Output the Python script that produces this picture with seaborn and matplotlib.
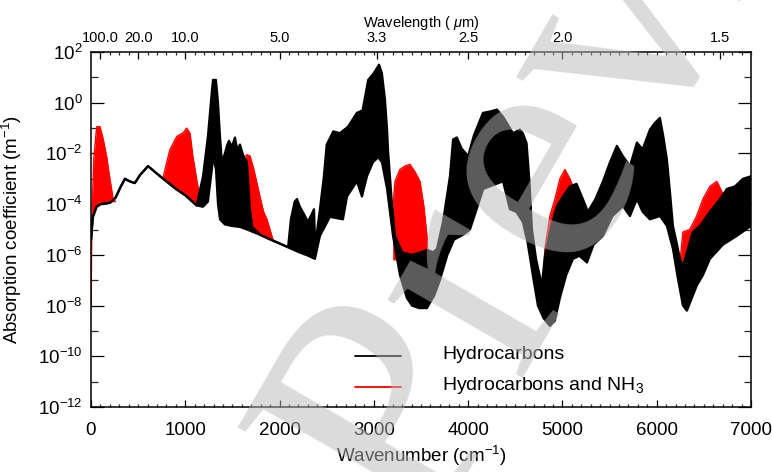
import numpy as np
import matplotlib
matplotlib.use("Agg")
import matplotlib.pyplot as plt
import seaborn as sns
from matplotlib.ticker import FixedLocator, FixedFormatter, NullFormatter

# ---------------- data (log10 of absorption coefficient, m^-1) ----------------
# Hydrocarbons: upper envelope of the dense line spectrum
hc_top_wn = [0, 20, 60, 100, 200, 260, 310, 360, 410, 465, 520, 605, 700, 800, 900, 1000, 1120,
             1188, 1240, 1283, 1294, 1325, 1347, 1368, 1389, 1420, 1442, 1463, 1495, 1527, 1550,
             1580, 1612, 1654, 1686, 1710, 1800, 1900, 2000, 2090, 2120, 2160, 2185, 2215, 2260,
             2300, 2340, 2365, 2380, 2400, 2428, 2470, 2500, 2570, 2640, 2725, 2820, 2880, 2940,
             3000, 3055, 3085, 3118, 3140, 3150, 3190, 3224, 3300, 3400, 3500, 3563, 3630, 3670,
             3733, 3807, 3840, 3880, 3930, 4000, 4060, 4157, 4230, 4305, 4370, 4475, 4549, 4580,
             4620, 4650, 4677, 4720, 4782, 4814, 4867, 4940, 5005, 5080, 5150, 5217, 5270, 5350,
             5430, 5504, 5578, 5640, 5716, 5790, 5850, 5928, 5980, 6034, 6070, 6108, 6140, 6172,
             6210, 6246, 6278, 6320, 6383, 6458, 6564, 6670, 6744, 6830, 6914, 7000]
hc_top_log = [-5.4, -4.5, -4.1, -4.0, -3.95, -3.75, -3.35, -3.0, -3.1, -3.17, -2.85, -2.5, -2.8,
              -3.1, -3.4, -3.65, -4.05,
              -2.9, -1.33, 0.5, 0.9, 0.9, 0.0, -1.33, -2.35, -2.0, -1.7, -1.5, -1.73, -1.37, -1.84,
              -1.65, -2.05, -2.35, -4.2, -4.9, -5.22, -5.39, -5.55, -5.7, -4.6, -3.9, -3.8, -4.1, -4.4,
              -4.7, -4.4, -4.2, -5.8, -5.0, -4.2, -2.9, -1.65, -1.13, -1.2, -0.95, -0.4, -0.3, 0.9,
              1.17, 1.5, 1.17, 0.12, -1.05, -1.85, -3.9, -5.25, -5.9, -6.0, -5.9, -5.8, -5.9, -5.76,
              -4.7, -2.9, -1.45, -1.37, -1.8, -2.1, -1.3, -0.4, -0.35, -0.27, -0.55, -1.2, -1.06, -1.2,
              -1.6, -3.1, -5.0, -6.16, -7.2, -6.04, -5.1, -4.1, -3.7, -3.3, -3.2, -3.8, -4.3, -3.8,
              -3.1, -2.35, -1.7, -2.1, -2.5, -1.57, -1.84, -1.06, -0.8, -0.6, -1.33, -2.24, -3.5, -4.86,
              -5.5, -6.16, -6.43, -5.9, -5.1, -4.86, -4.3, -3.8, -3.4, -3.3, -3.0, -2.9]

# Hydrocarbons: lower envelope
hc_bot_wn = [0, 20, 60, 100, 200, 260, 310, 360, 410, 465, 520, 605, 700, 800, 900, 1000, 1120,
             1188, 1240, 1283, 1294, 1325, 1347, 1368, 1420, 1495, 1580, 1654, 1800, 1900, 2000,
             2090, 2195, 2300, 2375, 2428, 2534, 2672, 2715, 2820, 2874, 2927, 2990, 3045, 3086,
             3140, 3203, 3277, 3350, 3404, 3480, 3563, 3640, 3700, 3780, 3850, 3950, 4019, 4090,
             4160, 4231, 4300, 4370, 4443, 4510, 4580, 4630, 4690, 4740, 4800, 4867, 4920, 4973,
             5040, 5111, 5180, 5260, 5330, 5430, 5530, 5642, 5716, 5790, 5850, 5928, 6034, 6108,
             6172, 6225, 6278, 6320, 6426, 6490, 6564, 6702, 6850, 7000]
hc_bot_log = [-5.4, -4.5, -4.1, -4.0, -3.95, -3.75, -3.35, -3.0, -3.1, -3.17, -2.85, -2.5, -2.8,
              -3.1, -3.4, -3.65, -4.05,
              -4.1, -3.9, -2.6, -2.15, -2.6, -4.0, -4.6, -4.8, -4.86, -4.9, -5.0, -5.22, -5.39, -5.55,
              -5.7, -5.88, -6.03, -6.16, -5.25, -4.5, -4.6, -3.7, -3.1, -3.7, -2.9, -2.35, -2.15, -2.35,
              -3.4, -5.25, -6.8, -7.7, -8.0, -8.1, -8.1, -7.6, -7.0, -6.0, -5.4, -5.2, -5.0, -4.2,
              -3.4, -3.3, -3.2, -3.1, -4.2, -4.3, -4.7, -5.5, -6.9, -8.0, -8.5, -8.8, -8.6, -7.7,
              -6.8, -6.16, -6.04, -6.3, -5.6, -5.25, -4.47, -4.08, -4.47, -3.8, -4.3, -4.6, -4.47, -4.86,
              -5.76, -6.94, -8.0, -8.2, -7.2, -6.8, -6.16, -5.6, -5.25, -4.86]

# Hydrocarbons and NH3: bands where it rises above the hydrocarbon spectrum
nh3_b1_wn = [0, 10, 30, 60, 95, 130, 165, 200, 235, 260]
nh3_b1_top = [-8.1, -4.5, -2.2, -0.95, -0.94, -1.45, -2.1, -3.0, -3.8, -3.9]
nh3_b1_base = [-8.1, -4.5, -4.3, -4.1, -4.0, -4.0, -3.98, -3.95, -3.9, -3.9]

nh3_b2_wn = [765, 800, 838, 910, 980, 1015, 1050, 1080, 1120, 1156, 1175]
nh3_b2_top = [-2.95, -2.4, -1.84, -1.33, -1.18, -1.0, -1.2, -2.1, -3.0, -3.8, -4.1]
nh3_b2_base = [-2.98, -3.1, -3.22, -3.42, -3.6, -3.69, -3.78, -3.9, -4.05, -4.1, -4.1]

nh3_b3_wn = [1640, 1654, 1686, 1718, 1750, 1792, 1830, 1866, 1898, 1930, 1945]
nh3_b3_top = [-2.1, -2.05, -2.1, -2.5, -3.0, -3.7, -4.3, -4.6, -5.0, -5.4, -5.45]
nh3_b3_base = [-4.98, -5.0, -5.05, -5.1, -5.15, -5.22, -5.28, -5.34, -5.38, -5.43, -5.45]

nh3_b4_wn = [3200, 3224, 3277, 3330, 3383, 3440, 3489, 3530, 3563, 3575]
nh3_b4_top = [-4.2, -3.1, -2.63, -2.5, -2.43, -2.75, -3.1, -4.08, -5.25, -6.3]
nh3_b4_base = [-6.2, -6.2, -6.2, -6.2, -6.2, -6.2, -6.2, -6.2, -6.2, -6.3]

nh3_b5_wn = [4800, 4814, 4867, 4920, 4973, 5026, 5080, 5111, 5130]
nh3_b5_top = [-7.0, -5.76, -4.47, -3.8, -3.0, -2.63, -3.0, -3.3, -3.4]
nh3_b5_base = [-7.0, -6.2, -5.3, -4.4, -3.95, -3.8, -3.5, -3.45, -3.4]

nh3_b6_wn = [6246, 6278, 6350, 6420, 6490, 6564, 6638, 6690, 6723, 6735]
nh3_b6_top = [-6.3, -5.1, -5.0, -4.5, -3.8, -3.3, -3.1, -3.5, -3.8, -3.7]
nh3_b6_base = [-6.4, -6.2, -5.4, -5.0, -4.8, -4.4, -4.0, -3.85, -3.75, -3.7]

nh3_bands = [(nh3_b1_wn, nh3_b1_top, nh3_b1_base), (nh3_b2_wn, nh3_b2_top, nh3_b2_base),
             (nh3_b3_wn, nh3_b3_top, nh3_b3_base), (nh3_b4_wn, nh3_b4_top, nh3_b4_base),
             (nh3_b5_wn, nh3_b5_top, nh3_b5_base), (nh3_b6_wn, nh3_b6_top, nh3_b6_base)]

x_ticks = [0, 1000, 2000, 3000, 4000, 5000, 6000, 7000]
y_major_exp = [-12, -10, -8, -6, -4, -2, 0, 2]
y_minor_exp = [-11, -9, -7, -5, -3, -1, 1]
wl_labels = ["100.0", "20.0", "10.0", "5.0", "3.3", "2.5", "2.0", "1.5"]
wl_values = [100.0, 20.0, 10.0, 5.0, 3.3, 2.5, 2.0, 1.5]
legend_labels = ["Hydrocarbons", "Hydrocarbons and NH$_3$"]

# ---------------- style ----------------
sns.set_theme(style="ticks")
plt.rcParams["font.family"] = ["Liberation Sans", "DejaVu Sans"]
plt.rcParams["mathtext.fontset"] = "custom"
plt.rcParams["mathtext.rm"] = "Liberation Sans"
plt.rcParams["mathtext.it"] = "Liberation Sans:italic"
plt.rcParams["mathtext.bf"] = "Liberation Sans:bold"

fig = plt.figure(figsize=(7.72, 4.72), dpi=100)
ax = fig.add_axes([91 / 772, 65 / 472, 660 / 772, 355 / 472])

def p10(v):
    return 10.0 ** np.asarray(v, dtype=float)

# red bands first (underneath)
for wn, top, base in nh3_bands:
    ax.fill_between(wn, p10(base), p10(top), color="#ff0000", lw=0, zorder=2)
    sns.lineplot(x=wn, y=p10(top), ax=ax, color="#ff0000", lw=1.0, sort=False,
                 estimator=None, zorder=2)

# black hydrocarbon spectrum
poly_x = np.concatenate([hc_top_wn, hc_bot_wn[::-1]])
poly_y = np.concatenate([p10(hc_top_log), p10(hc_bot_log)[::-1]])
ax.fill(poly_x, poly_y, color="black", lw=0, zorder=3)
sns.lineplot(x=hc_top_wn, y=p10(hc_top_log), ax=ax, color="black", lw=1.6, sort=False,
             estimator=None, zorder=4)
sns.lineplot(x=hc_bot_wn, y=p10(hc_bot_log), ax=ax, color="black", lw=1.6, sort=False,
             estimator=None, zorder=4)

ax.set_yscale("log")
ax.set_xlim(0, 7000)
ax.set_ylim(1e-12, 1e2)

ax.xaxis.set_major_locator(FixedLocator(x_ticks))
ax.xaxis.set_minor_locator(FixedLocator(np.arange(0, 7001, 100)))
ax.yaxis.set_major_locator(FixedLocator(p10(y_major_exp)))
ax.yaxis.set_major_formatter(FixedFormatter([r"$10^{%d}$" % e for e in y_major_exp]))
ax.yaxis.set_minor_locator(FixedLocator(p10(y_minor_exp)))
ax.yaxis.set_minor_formatter(NullFormatter())

ax.tick_params(axis="y", which="major", direction="in", length=9.4, width=0.9,
               right=True, labelsize=13.5, pad=6, colors="black")
ax.tick_params(axis="y", which="minor", direction="in", length=5, width=0.9, right=True)
ax.tick_params(axis="x", which="major", direction="in", length=5, width=0.9,
               labelsize=13.5, pad=11, colors="black")
ax.tick_params(axis="x", which="minor", direction="in", length=2.5, width=0.9)
for s in ax.spines.values():
    s.set_color("black")
    s.set_linewidth(1.1)

ax.set_xlabel("Wavenumber (cm$^{-1}$)", fontsize=13.5, labelpad=3, color="black")
ax.set_ylabel("Absorption coefficient (m$^{-1}$)", fontsize=13.5, labelpad=10, color="black")

# top wavelength axis
ax2 = ax.twiny()
ax2.set_xlim(0, 7000)
ax2.xaxis.set_major_locator(FixedLocator([1e4 / w for w in wl_values]))
ax2.xaxis.set_major_formatter(FixedFormatter(wl_labels))
ax2.xaxis.set_minor_locator(FixedLocator(np.arange(100, 7001, 100)))
ax2.tick_params(axis="x", which="major", direction="in", length=5, width=0.9,
                labelsize=10.5, pad=5, colors="black")
ax2.tick_params(axis="x", which="minor", direction="in", length=2.5, width=0.9)
ax2.set_xlabel(r"Wavelength ( $\mu$m)", fontsize=10.5, labelpad=3, color="black")
for s in ax2.spines.values():
    s.set_visible(False)

# legend (drawn manually like the original IDL plot)
leg_y = [0.1437, 0.0563]
for yy, col, lab in zip(leg_y, ["black", "#ff0000"], legend_labels):
    ax.plot([0.400, 0.470], [yy, yy], transform=ax.transAxes, color=col, lw=1.3, zorder=6)
    ax.text(0.532, yy + 0.005, lab, transform=ax.transAxes, fontsize=14, va="center",
            ha="left", color="black", zorder=6)

# watermark
fig.text(628 / 772, 1 - 15 / 472, "Preview", rotation=60, rotation_mode="anchor",
         fontsize=245, color=(0.72, 0.72, 0.72), alpha=0.5, family="Liberation Serif",
         ha="center", va="center", zorder=20)

fig.savefig("out.png", dpi=100)
